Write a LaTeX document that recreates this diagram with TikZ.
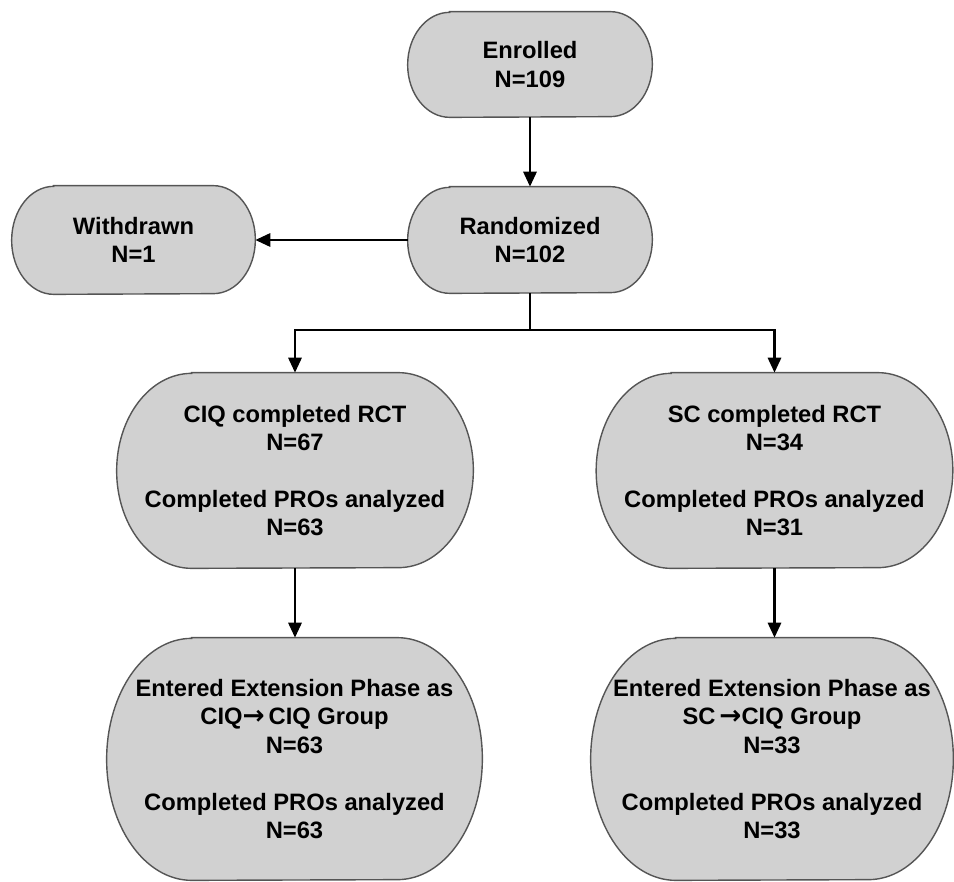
\documentclass[tikz,border=0pt]{standalone}
\usepackage{fontspec}
\setmainfont{Liberation Sans}
\newfontfamily\symf{DejaVu Sans}
\usetikzlibrary{arrows.meta,calc}
\definecolor{boxfill}{RGB}{209,209,209}
\definecolor{boxline}{RGB}{85,85,85}
\pgfdeclarelayer{bg}
\pgfsetlayers{bg,main}
\newcommand\stadium[3]{%
  \begin{pgfonlayer}{bg}
  \filldraw[fill=boxfill,draw=boxline,line width=0.8pt]
    ($(#1.north west)+(#2,0)$) -- ($(#1.north east)+(-#2,0)$)
    arc[start angle=90,end angle=-90,x radius=#2*0.02cm,y radius=#3*0.02cm]
    -- ($(#1.south west)+(#2,0)$)
    arc[start angle=270,end angle=90,x radius=#2*0.02cm,y radius=#3*0.02cm]
    -- cycle;
  \end{pgfonlayer}}
\newcommand\rarr{{\symf\bfseries\fontsize{15}{16}\selectfont →}}
\tikzset{
  box/.style={rectangle,inner sep=0pt,align=center,
    font=\fontsize{13.5}{16.2}\selectfont\bfseries},
  arr/.style={line width=1.4pt,-{Triangle[length=8.5pt,width=7.5pt]}},
  ln/.style={line width=1.4pt}
}
\begin{document}
\begin{tikzpicture}[x=0.02cm,y=-0.02cm]
\useasboundingbox (0,0) rectangle (954,882);
\node[box,minimum width=244*0.02cm,minimum height=105*0.02cm] (enr) at (530,64.5) {Enrolled\\N=109};
\stadium{enr}{42}{52.5}
\node[box,minimum width=244*0.02cm,minimum height=106*0.02cm] (rnd) at (530,240) {Randomized\\N=102};
\stadium{rnd}{42}{53}
\node[box,minimum width=243*0.02cm,minimum height=108*0.02cm] (wd) at (133.5,240) {Withdrawn\\N=1};
\stadium{wd}{42}{54}
\node[box,minimum width=356*0.02cm,minimum height=195*0.02cm] (ciq) at (295,470.5)
  {CIQ completed RCT\\N=67\\[16.2pt]Completed PROs analyzed\\N=63};
\stadium{ciq}{75}{97.5}
\node[box,minimum width=356*0.02cm,minimum height=195*0.02cm] (sc) at (774.5,470.5)
  {SC completed RCT\\N=34\\[16.2pt]Completed PROs analyzed\\N=31};
\stadium{sc}{75}{97.5}
\node[box,minimum width=375*0.02cm,minimum height=242*0.02cm] (ciqb) at (294.5,759)
  {Entered Extension Phase as\\CIQ\rarr\,CIQ Group\\N=63\\[16.2pt]Completed PROs analyzed\\N=63};
\stadium{ciqb}{85}{121}
\node[box,minimum width=362*0.02cm,minimum height=242*0.02cm] (scb) at (772,759)
  {Entered Extension Phase as\\SC\,\rarr CIQ Group\\N=33\\[16.2pt]Completed PROs analyzed\\N=33};
\stadium{scb}{85}{121}
\coordinate (br) at (530,330);
\draw[arr] (enr.south) -- (rnd.north);
\draw[arr] (rnd.west) -- (wd.east);
\draw[ln] (rnd.south) -- (br);
\draw[arr] (br) -| (ciq.north);
\draw[arr] (br) -| (sc.north);
\draw[arr] (ciq.south) -- (ciq.south |- ciqb.north);
\draw[arr] (sc.south) -- (sc.south |- scb.north);
\end{tikzpicture}
\end{document}
